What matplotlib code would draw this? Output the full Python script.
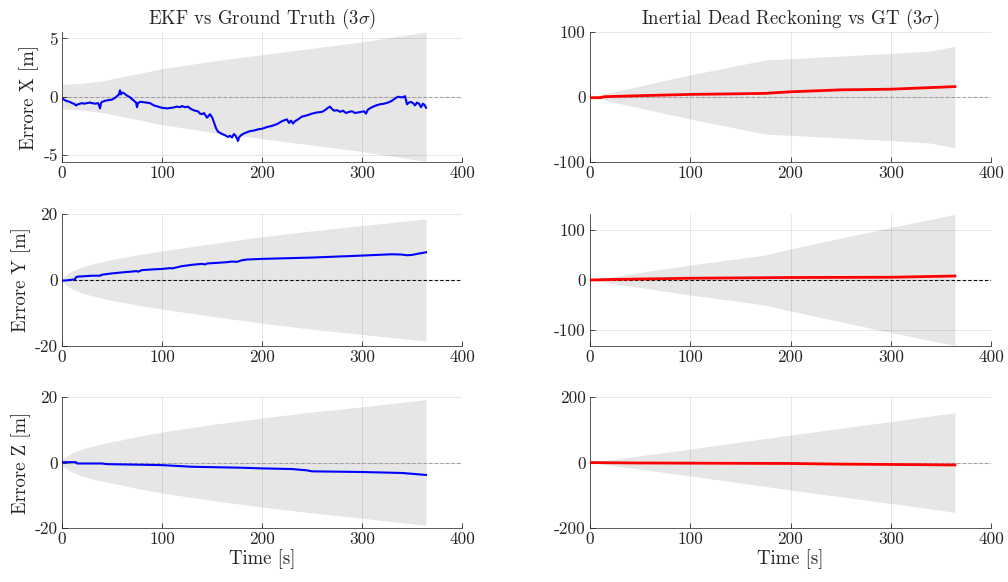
import matplotlib
matplotlib.use("Agg")
import matplotlib.pyplot as plt
import numpy as np

plt.rcParams['font.family'] = ['cmr10', 'DejaVu Serif']
plt.rcParams['mathtext.fontset'] = 'cm'
plt.rcParams['axes.unicode_minus'] = False
plt.rcParams['axes.formatter.use_mathtext'] = False

# ---------------- data ----------------
# EKF X error
t_ekf_x = [0,2,4,6,8,10,12,14,16,18,20,22,25,28,30,33,36,37,38,39,40,43,46,50,53,55,57,58,59,60,
           62,64,66,68,70,72,74,75,76,78,80,84,88,92,96,100,105,110,115,118,120,123,126,128,130,
           133,136,138,140,142,145,147,148,150,152,154,156,158,160,163,166,168,170,172,174,176,177,
           179,182,185,188,192,196,200,205,210,215,220,223,225,227,229,231,233,236,240,245,250,255,
           260,263,266,268,270,272,275,278,281,284,287,290,293,296,299,302,304,306,310,314,318,322,
           326,330,333,336,339,341,343,344,345,347,349,351,353,355,357,359,361,363,364]
err_ekf_x = [-0.15,-0.25,-0.35,-0.4,-0.45,-0.55,-0.6,-0.75,-0.65,-0.6,-0.55,-0.6,-0.55,-0.5,-0.55,
             -0.6,-0.55,-0.75,-1.0,-0.55,-0.45,-0.35,-0.3,-0.25,-0.1,0.05,0.2,0.55,0.2,0.35,
             0.3,0.15,0.05,-0.05,-0.2,-0.35,-0.5,-0.9,-0.55,-0.45,-0.45,-0.5,-0.55,-0.75,-0.85,-0.95,
             -1.0,-0.95,-0.85,-0.9,-0.8,-0.9,-0.85,-1.0,-1.1,
             -1.2,-1.25,-1.45,-1.5,-1.4,-1.8,-1.6,-1.5,-1.75,-2.2,-2.7,-3.0,-3.1,-3.2,-3.3,-3.45,
             -3.35,-3.5,-3.2,-3.4,-3.8,-3.5,
             -3.3,-3.15,-3.05,-2.95,-2.9,-2.8,-2.75,-2.6,-2.5,-2.35,-2.1,-2.0,-1.95,-2.25,-2.05,-2.3,
             -2.1,-1.95,-1.7,-1.6,-1.45,-1.35,
             -1.3,-1.15,-0.95,-0.85,-1.05,-1.2,-1.15,-1.3,-1.2,-1.4,-1.3,-1.25,-1.4,-1.35,-1.3,-1.25,
             -1.45,-1.1,-0.9,-0.75,-0.65,-0.6,
             -0.5,-0.35,-0.15,0.0,-0.05,-0.05,0.05,-0.3,-0.65,-0.5,-0.45,-0.55,-0.75,-0.5,-0.6,-0.9,
             -0.6,-0.75,-0.95]
t_bnd_ekf_x = [0,20,40,60,80,100,150,200,250,300,364]
bnd_ekf_x = [1.05,1.15,1.35,1.7,2.05,2.4,3.05,3.6,4.15,4.7,5.55]

# EKF Y error
t_ekf_y = [0,5,10,13,14,15,20,30,38,40,50,60,75,76,80,90,100,108,110,120,130,140,143,145,150,
           165,170,175,180,185,200,250,300,330,340,345,350,355,364]
err_ekf_y = [-0.2,-0.1,0.1,0.2,0.8,1.0,1.1,1.3,1.3,1.6,2.0,2.3,2.7,2.5,3.0,3.2,3.35,3.6,3.5,4.2,
             4.6,4.9,4.7,5.0,5.1,5.4,5.6,5.5,6.0,6.2,6.4,6.8,7.4,7.8,7.7,7.5,7.6,7.9,8.4]
t_bnd_ekf = [0,5,10,20,30,50,75,100,150,200,250,300,364]
bnd_ekf_y = [0.3,1.8,2.7,3.9,4.8,6.2,7.6,8.8,11.0,13.1,14.9,16.5,18.5]

# EKF Z error
t_ekf_z = [0,14,15,40,45,100,130,180,200,230,245,250,300,340,364]
err_ekf_z = [0.1,0.1,-0.3,-0.3,-0.5,-0.8,-1.3,-1.6,-1.8,-2.0,-2.4,-2.7,-2.9,-3.2,-3.8]
bnd_ekf_z = [1.0,2.0,2.9,4.1,5.0,6.3,7.9,9.3,11.6,13.6,15.4,17.0,19.2]

# Dead reckoning
t_dr_x = [0,10,15,50,100,150,175,200,250,300,364]
err_dr_x = [-1,-1,0.5,2,4,5,5.6,8,11,12,16]
t_bnd_dr_x = [0,100,175,200,250,300,340,364]
bnd_dr_x = [0,34,57,59,63,67,71,78]

t_dr_y = [0,20,50,100,200,300,364]
err_dr_y = [0,1,2,3.5,5,5.5,8]
t_bnd_dr_y = [0,100,175,200,300,364]
bnd_dr_y = [0,30,50,62,105,131]

t_dr_z = [0,10,50,100,200,250,300,364]
err_dr_z = [0,-0.5,-1.5,-2,-3,-5,-6,-7.5]
t_bnd_dr_z = [0,100,200,300,364]
bnd_dr_z = [0,41,84,125,152]

titles = [r'EKF vs Ground Truth ($3\sigma$)', r'Inertial Dead Reckoning vs GT ($3\sigma$)']
ylabels = ['Errore X [m]', 'Errore Y [m]', 'Errore Z [m]']
xlabel = 'Time [s]'
xticks = [0, 100, 200, 300, 400]

# --------------- plotting ---------------
W, H = 1008, 582
fig = plt.figure(figsize=(W/100, H/100), dpi=100)

cols = [(62, 400), (590, 401)]
rows = [(32, 162), (214, 346), (397, 528)]

panels = [
    (0, 0, t_ekf_x, err_ekf_x, t_bnd_ekf_x, bnd_ekf_x, 'b', (-5.6, 5.55), [-5, 0, 5], 'gray'),
    (1, 0, t_ekf_y, err_ekf_y, t_bnd_ekf, bnd_ekf_y, 'b', (-20, 20), [-20, 0, 20], 'black'),
    (2, 0, t_ekf_z, err_ekf_z, t_bnd_ekf, bnd_ekf_z, 'b', (-20, 20), [-20, 0, 20], 'gray'),
    (0, 1, t_dr_x, err_dr_x, t_bnd_dr_x, bnd_dr_x, 'r', (-100, 100), [-100, 0, 100], 'gray'),
    (1, 1, t_dr_y, err_dr_y, t_bnd_dr_y, bnd_dr_y, 'r', (-132, 132), [-100, 0, 100], 'black'),
    (2, 1, t_dr_z, err_dr_z, t_bnd_dr_z, bnd_dr_z, 'r', (-200, 200), [-200, 0, 200], 'gray'),
]

axc = '#262626'
for (r, c, t, e, tb, b, col, yl, yt, zs) in panels:
    x0, w = cols[c]
    top, bot = rows[r]
    ax = fig.add_axes([x0/W, 1 - bot/H, w/W, (bot-top)/H])
    tb_a = np.array(tb, dtype=float)
    b_a = np.array(b, dtype=float)
    ax.fill_between(tb_a, -b_a, b_a, color='#e6e6e6', linewidth=0, zorder=1)
    if zs == 'black':
        ax.axhline(0, color='k', ls=(0, (3, 2)), lw=0.8, zorder=2)
    else:
        ax.axhline(0, color='#b0b0b0', ls=(0, (3, 2)), lw=0.8, zorder=2)
    ax.plot(t, e, color=col, lw=1.5 if col == 'b' else 2.0, zorder=3)
    ax.set_xlim(0, 400)
    ax.set_ylim(*yl)
    ax.set_xticks(xticks)
    ax.set_yticks(yt)
    ax.grid(True, color='#262626', alpha=0.13, lw=0.6, zorder=2.5)
    ax.set_axisbelow(False)
    for s in ['top', 'right']:
        ax.spines[s].set_visible(False)
    for s in ['left', 'bottom']:
        ax.spines[s].set_color('#404040')
        ax.spines[s].set_linewidth(0.6)
    ax.tick_params(direction='in', length=3.5, width=0.6, colors=axc, labelsize=12.5, pad=3)
    if r == 0:
        ax.set_title(titles[c], fontsize=13.5, color='#262626', pad=6)
    if c == 0:
        ax.set_ylabel(ylabels[r], fontsize=13.5, color='#262626', labelpad=3)
    if r == 2:
        ax.set_xlabel(xlabel, fontsize=13.5, color='#262626', labelpad=1)

fig.savefig('out.png', dpi=100)
